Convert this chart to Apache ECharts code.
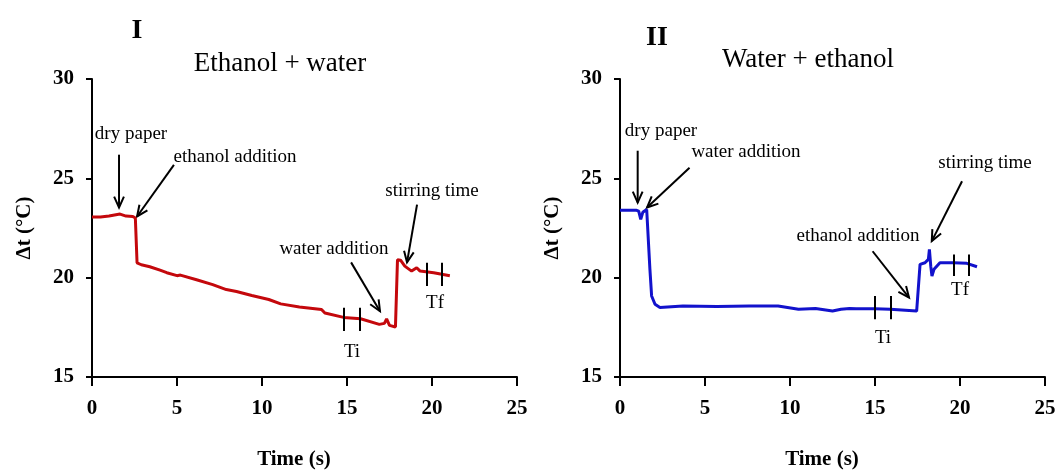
<!DOCTYPE html>
<html><head><meta charset="utf-8">
<script src="https://cdn.jsdelivr.net/npm/echarts@6/dist/echarts.min.js"></script>
<style>html,body{margin:0;padding:0;background:#fff}#c{width:1058px;height:471px}</style>
</head><body><div id="c"></div>
<script>
// ---- data ----
const timeI = [0,0.5,1.0,1.65,2.0,2.4,2.55,2.65,2.9,3.4,4.0,4.4,5.0,5.1,5.2,6.2,7.1,7.9,8.5,9.4,10.4,11.1,12.2,13.5,13.7,14.8,15.8,16.9,17.2,17.33,17.5,17.85,17.97,18.15,18.4,18.8,19.1,19.3,20.1,21.05];
const tempI = [23.05,23.05,23.1,23.2,23.1,23.08,23.0,20.75,20.65,20.55,20.38,20.25,20.1,20.05,20.13,19.88,19.65,19.4,19.3,19.1,18.9,18.68,18.52,18.4,18.22,18.0,17.93,17.65,17.7,17.92,17.6,17.52,20.9,20.88,20.58,20.33,20.5,20.33,20.25,20.1];
const timeII = [0,0.98,1.1,1.22,1.34,1.57,1.68,1.76,1.86,2.06,2.35,3.7,5.7,7.6,9.3,10.5,11.5,12.5,13.0,13.5,13.9,15.0,15.9,17.45,17.55,17.65,17.94,18.14,18.2,18.28,18.35,18.47,18.82,19.6,20.4,21.0];
const tempII = [23.39,23.39,23.35,22.93,23.29,23.43,23.38,20.42,19.08,18.66,18.5,18.57,18.55,18.57,18.57,18.41,18.45,18.32,18.41,18.45,18.44,18.44,18.41,18.32,18.4,20.67,20.75,20.92,21.42,20.58,20.08,20.42,20.75,20.75,20.72,20.55];
const panelTitles = ['I', 'II'];
const panelSubtitles = ['Ethanol + water', 'Water + ethanol'];
const xName = 'Time (s)';
const yName = 'Δt (°C)';
// Ti / Tf marker bars: [x, yLow, yHigh]
const barsI = [[14.78,17.32,18.49],[15.76,17.32,18.49],[19.69,19.58,20.75],[20.57,19.58,20.75]];
const barsII = [[15.0,17.91,19.08],[15.92,17.91,19.08],[19.61,20.08,21.17],[20.49,20.08,21.17]];
// annotation arrows in data coordinates: [x1,y1,x2,y2]
const arrowsI = [[1.59,26.19,1.59,23.53],[4.82,25.68,2.65,23.08],[15.24,20.77,16.94,18.31],[19.12,23.68,18.53,20.77]];
const arrowsII = [[1.04,26.39,1.04,23.78],[4.09,25.53,1.59,23.53],[14.86,21.33,17.0,19.0],[20.12,24.85,18.34,21.84]];

const FONT = '"Liberation Serif", "Times New Roman", serif';
const zip = (a,b) => a.map((v,i)=>[v,b[i]]);

function xAxis(idx){
  return {gridIndex: idx, type:'value', min:0, max:25, interval:5,
    name: xName, nameLocation:'middle', nameGap:72,
    nameTextStyle:{fontFamily:FONT, fontWeight:'bold', fontSize:21, color:'#000', padding:[0,21,0,0]},
    axisLine:{onZero:false, lineStyle:{color:'#000', width:2}},
    axisTick:{length:9, lineStyle:{color:'#000', width:2}},
    axisLabel:{fontFamily:FONT, fontWeight:'bold', fontSize:21, color:'#000', margin:21},
    splitLine:{show:false}};
}
function yAxis(idx){
  return {gridIndex: idx, type:'value', min:15, max:30, interval:5,
    name: yName, nameLocation:'middle', nameGap:57, nameRotate:90,
    nameTextStyle:{fontFamily:FONT, fontWeight:'bold', fontSize:21, color:'#000'},
    axisLine:{show:true, onZero:false, lineStyle:{color:'#000', width:2}},
    axisTick:{show:true, length:6, lineStyle:{color:'#000', width:2}},
    axisLabel:{fontFamily:FONT, fontWeight:'bold', fontSize:21, color:'#000', margin:18},
    splitLine:{show:false}};
}
function barLines(bars){
  return {silent:true, symbol:['none','none'], label:{show:false}, animation:false,
    lineStyle:{color:'#000', width:2, type:'solid'},
    data: bars.map(b=>[{coord:[b[0],b[1]]},{coord:[b[0],b[2]]}])};
}
function txt(x,y,text,size,bold){
  return {type:'text', x:x, y:y, style:{text:text, fontFamily:FONT, fontSize:size, fontWeight:bold?'bold':'normal', fill:'#000', align:'center', verticalAlign:'middle'}};
}

const chart = echarts.init(document.getElementById('c'), null, {renderer:'canvas'});
const option = {
  animation:false,
  backgroundColor:'#fff',
  grid:[{left:92, top:79, width:425, height:298, containLabel:false, outerBoundsMode:'none'},
        {left:620, top:79, width:425, height:298, containLabel:false, outerBoundsMode:'none'}],
  xAxis:[xAxis(0), xAxis(1)],
  yAxis:[yAxis(0), yAxis(1)],
  series:[
    {type:'line', xAxisIndex:0, yAxisIndex:0, data:zip(timeI,tempI), showSymbol:false, symbol:'none',
      lineStyle:{color:'#c4080c', width:3}, itemStyle:{color:'#c4080c'}, markLine:barLines(barsI)},
    {type:'line', xAxisIndex:1, yAxisIndex:1, data:zip(timeII,tempII), showSymbol:false, symbol:'none',
      lineStyle:{color:'#1212cc', width:3}, itemStyle:{color:'#1212cc'}, markLine:barLines(barsII)}
  ]
};
chart.setOption(option);

// annotations
const g = [
  txt(137,31,panelTitles[0],28,true), txt(280,64,panelSubtitles[0],27,false),
  txt(657,38,panelTitles[1],28,true), txt(808,60,panelSubtitles[1],27,false),
  txt(131,134,'dry paper',19), txt(235,157,'ethanol addition',19), txt(334,249,'water addition',19), txt(432,191,'stirring time',19),
  txt(352,352,'Ti',19), txt(435,303,'Tf',19),
  txt(661,131,'dry paper',19), txt(746,152,'water addition',19), txt(858,236,'ethanol addition',19), txt(985,163,'stirring time',19),
  txt(883,338,'Ti',19), txt(960,290,'Tf',19)
];
function arrow(gridIdx, a){
  const p1 = chart.convertToPixel({gridIndex:gridIdx}, [a[0],a[1]]);
  const p2 = chart.convertToPixel({gridIndex:gridIdx}, [a[2],a[3]]);
  const ang = Math.atan2(p1[1]-p2[1], p1[0]-p2[0]);
  const L = 12, h = 0.42;
  const l = [p2[0]+L*Math.cos(ang+h), p2[1]+L*Math.sin(ang+h)];
  const r = [p2[0]+L*Math.cos(ang-h), p2[1]+L*Math.sin(ang-h)];
  return [
    {type:'line', shape:{x1:p1[0], y1:p1[1], x2:p2[0], y2:p2[1]}, style:{stroke:'#000', lineWidth:2}},
    {type:'polyline', shape:{points:[l,p2,r]}, style:{stroke:'#000', lineWidth:2, fill:null}}
  ];
}
arrowsI.forEach(a=>g.push(...arrow(0,a)));
arrowsII.forEach(a=>g.push(...arrow(1,a)));
chart.setOption({graphic:g});
</script></body></html>
